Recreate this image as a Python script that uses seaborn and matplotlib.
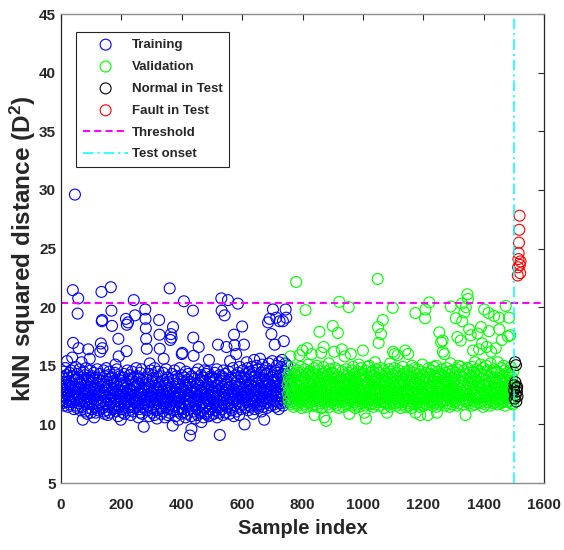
import numpy as np
import pandas as pd
import matplotlib
matplotlib.use("Agg")
import matplotlib.pyplot as plt
import seaborn as sns

# kNN squared distance of each training sample (sample index 1, 2, ...)
train_d2 = [
    13.2, 12.4, 14.1, 11.8, 12.9, 13.6, 12.1, 14.5, 13.0, 11.6, 12.7, 13.9, 12.3, 14.8, 12.0, 13.4, 11.9, 12.6, 14.2, 15.4, 12.8, 13.1, 11.5, 14.0, 12.5,
    13.7, 12.2, 14.4, 11.7, 13.3, 12.9, 12.0, 14.6, 13.5, 11.9, 12.6, 15.7, 13.0, 21.45, 16.95, 12.4, 14.1, 11.3, 13.8, 12.7, 29.6, 13.2, 14.9, 12.1, 11.6,
    12.8, 13.9, 11.4, 14.3, 19.45, 12.5, 20.75, 16.5, 13.1, 11.8, 14.7, 12.3, 13.6, 12.0, 11.2, 13.4, 14.0, 15.3, 12.6, 11.5, 13.8, 10.4, 12.9, 14.5, 12.2,
    13.3, 11.9, 12.7, 14.2, 11.1, 13.0, 12.4, 14.8, 11.7, 13.5, 12.1, 10.9, 13.8, 12.6, 16.4, 11.4, 14.0, 12.9, 11.8, 15.6, 13.2, 12.3, 14.6, 11.0, 12.8,
    12.0, 13.6, 11.3, 14.1, 12.5, 11.7, 13.9, 12.2, 14.4, 10.6, 12.9, 11.5, 13.3, 12.7, 11.0, 14.0, 12.4, 13.1, 11.8, 14.7, 12.1, 13.5, 11.2, 12.6, 13.8,
    11.6, 12.8, 14.3, 11.9, 16.2, 12.5, 16.9, 13.7, 21.3, 18.8, 18.9, 16.5, 11.4, 13.2, 12.0, 14.6, 11.1, 12.7, 13.4, 10.9, 14.1, 12.3, 11.7, 13.0, 14.8,
    12.4, 11.2, 13.6, 12.9, 10.8, 14.2, 12.1, 13.3, 11.5, 14.5, 12.6, 11.0, 13.9, 12.2, 21.7, 11.8, 19.7, 13.1, 18.4, 12.7, 14.0, 11.3, 12.5, 13.7, 11.6,
    13.0, 12.3, 14.4, 11.4, 15.1, 12.8, 11.1, 13.5, 12.0, 14.7, 11.7, 13.2, 12.6, 10.7, 17.3, 15.8, 12.4, 13.8, 11.5, 14.1, 12.9, 11.9, 10.4, 13.4, 12.2,
    11.3, 13.7, 12.5, 14.0, 11.0, 12.8, 13.3, 11.6, 14.3, 12.1, 10.9, 13.6, 12.4, 11.8, 19.0, 13.1, 16.25, 18.5, 12.7, 14.6, 11.4, 18.7, 12.0, 13.9, 11.2,
    12.6, 14.2, 11.5, 13.0, 12.3, 10.8, 13.8, 12.9, 11.7, 14.5, 12.2, 13.4, 11.1, 12.8, 14.0, 20.6, 11.9, 13.2, 12.5, 19.3, 11.4, 13.6, 12.1, 14.8, 11.8,
    13.3, 12.0, 11.6, 14.1, 12.7, 10.6, 13.5, 12.4, 11.3, 13.9, 12.8, 14.4, 11.0, 12.2, 13.1, 11.7, 14.7, 12.6, 10.9, 13.7, 12.3, 11.5, 13.0, 9.8, 12.9,
    11.8, 13.4, 12.1, 19.8, 19.0, 18.2, 17.3, 14.0, 16.45, 12.5, 11.2, 13.8, 12.8, 11.6, 14.3, 12.0, 10.7, 13.2, 15.2, 12.4, 11.9, 14.6, 12.7, 11.4, 13.6,
    12.2, 11.0, 13.9, 12.6, 14.2, 11.5, 12.9, 13.3, 10.8, 14.8, 12.1, 11.7, 13.6, 12.4, 11.2, 14.0, 12.8, 10.5, 13.1, 12.3, 11.8, 14.5, 12.0, 13.4, 18.9,
    17.65, 16.45, 11.6, 13.2, 12.5, 10.9, 14.1, 12.2, 11.4, 13.7, 12.8, 11.1, 14.4, 12.0, 15.6, 11.8, 13.0, 12.6, 10.6, 13.5, 12.3, 11.5, 14.7, 12.9, 11.9,
    13.3, 12.1, 10.8, 14.0, 12.7, 11.3, 13.6, 12.4, 11.0, 21.6, 12.9, 17.2, 11.7, 17.7, 13.1, 17.4, 12.0, 14.3, 11.5, 9.9, 18.3, 12.6, 13.8, 11.2, 12.3,
    14.6, 11.6, 12.8, 13.2, 10.7, 12.2, 14.1, 11.9, 13.5, 12.5, 11.1, 13.9, 12.0, 10.4, 13.4, 12.7, 11.4, 14.8, 12.3, 11.8, 13.0, 10.9, 12.6, 14.2, 16.0,
    11.3, 16.1, 12.9, 13.7, 11.0, 12.4, 20.5, 14.0, 11.7, 12.1, 13.3, 10.6, 12.8, 14.5, 11.5, 13.1, 12.2, 10.9, 13.8, 12.6, 11.2, 14.3, 12.0, 11.6, 13.4,
    12.5, 9.05, 11.8, 13.6, 12.3, 10.7, 9.6, 14.1, 12.9, 11.4, 13.2, 19.7, 17.4, 15.85, 12.0, 11.1, 13.9, 12.7, 10.5, 14.4, 12.2, 11.6, 13.0, 12.8, 11.3,
    13.5, 12.1, 10.8, 14.7, 12.4, 16.6, 11.5, 13.3, 12.6, 11.0, 13.8, 12.9, 11.7, 14.2, 10.2, 12.3, 13.6, 11.2, 12.7, 14.0, 11.9, 10.6, 13.1, 12.5, 14.6,
    11.4, 12.8, 13.7, 10.9, 12.2, 14.3, 11.6, 13.0, 12.6, 11.1, 14.5, 12.0, 13.4, 10.7, 15.5, 12.4, 11.8, 13.9, 12.1, 11.3, 14.1, 12.9, 10.8, 13.2, 12.5,
    12.7, 11.5, 14.0, 12.3, 13.6, 10.9, 12.8, 11.9, 14.4, 13.1, 11.2, 12.6, 13.8, 11.7, 12.2, 14.7, 10.6, 13.3, 12.0, 16.8, 11.4, 13.5, 12.9, 11.0, 14.2,
    9.1, 12.4, 13.7, 11.6, 12.1, 20.75, 19.7, 14.1, 11.3, 12.8, 13.2, 10.8, 14.6, 12.5, 11.8, 13.9, 19.3, 12.2, 11.0, 14.3, 12.7, 13.4, 16.6, 11.5, 12.9,
    13.6, 12.0, 20.6, 11.7, 14.5, 12.6, 13.1, 10.9, 12.3, 15.4, 11.4, 13.8, 12.8, 14.0, 11.2, 13.3, 12.5, 11.9, 14.8, 12.1, 13.0, 10.7, 17.65, 12.7, 16.75,
    11.6, 13.5, 12.4, 14.2, 16.0, 11.1, 12.9, 13.7, 12.2, 11.8, 20.3, 14.4, 12.6, 13.2, 10.8, 12.0, 14.9, 11.5, 13.4, 12.8, 11.3, 14.1, 12.5, 13.9, 18.35,
    12.3, 14.6, 11.7, 13.0, 12.7, 16.8, 14.0, 10.0, 13.6, 12.1, 11.4, 14.3, 12.9, 13.3, 15.3, 11.9, 12.4, 14.8, 13.1, 11.2, 12.6, 13.8, 12.0, 14.5, 11.6,
    13.4, 12.8, 11.5, 14.2, 13.0, 12.2, 14.9, 11.8, 13.6, 12.5, 10.9, 14.4, 13.2, 12.0, 15.5, 11.3, 12.7, 14.1, 13.7, 11.9, 12.4, 15.0, 12.9, 11.6, 13.5,
    12.1, 14.7, 13.3, 11.4, 12.8, 14.0, 12.3, 13.9, 15.6, 11.7, 13.1, 12.6, 14.4, 11.1, 13.6, 12.4, 15.1, 12.0, 13.8, 11.5, 14.6, 12.9, 10.4, 13.2, 14.2,
    11.8, 13.5, 12.7, 14.8, 12.2, 13.0, 11.4, 14.3, 12.9, 13.7, 18.7, 12.5, 15.2, 11.9, 13.4, 19.0, 12.1, 14.5, 13.1, 11.6, 12.8, 17.7, 14.0, 12.4, 15.4,
    13.3, 19.8, 12.6, 14.1, 11.7, 13.8, 12.0, 16.8, 14.6, 12.9, 11.5, 13.6, 19.1, 12.3, 15.0, 13.2, 11.9, 14.4, 12.7, 13.9, 11.3, 15.3, 12.5, 18.8, 14.2,
    12.8, 13.5, 11.8, 14.9, 12.4, 13.1, 15.5, 12.2, 14.0, 18.8, 11.6, 13.7, 17.1, 12.9, 14.5, 11.9, 13.4, 15.2, 19.8, 12.6, 19.1, 14.3, 12.1, 13.8, 15.0,
]

# kNN squared distance of each validation sample (continues the training index)
val_d2 = [
    13.4, 12.6, 14.2, 12.1, 13.8, 12.9, 11.7, 14.5, 13.1, 15.8, 12.4, 13.6, 11.9, 14.0, 12.7, 13.3, 12.0, 14.8, 12.5, 13.9, 11.5, 13.0, 14.3, 12.2, 13.7,
    12.8, 14.1, 11.8, 22.15, 13.5, 12.3, 14.6, 12.9, 11.6, 13.2, 14.4, 12.0, 13.8, 12.6, 15.9, 11.9, 13.4, 12.7, 14.9, 12.2, 13.0, 11.4, 14.2, 12.5, 16.3,
    13.6, 12.1, 14.0, 12.8, 11.7, 13.3, 14.7, 12.4, 13.9, 19.75, 12.0, 13.1, 11.5, 14.3, 16.5, 12.6, 13.7, 12.2, 15.1, 11.8, 13.5, 12.9, 14.5, 12.3, 13.2,
    11.9, 14.1, 12.7, 13.4, 16.0, 12.5, 13.8, 11.6, 14.4, 12.9, 13.0, 12.2, 14.8, 12.6, 10.8, 13.6, 12.0, 14.2, 11.7, 13.3, 12.8, 15.0, 12.4, 13.9, 11.5,
    13.1, 12.3, 14.6, 12.8, 13.5, 17.9, 12.0, 14.0, 11.8, 13.7, 12.5, 16.1, 13.2, 11.4, 14.3, 12.7, 13.9, 12.1, 14.9, 16.6, 12.4, 10.6, 13.6, 11.9, 14.1,
    12.6, 13.3, 10.3, 14.5, 12.2, 13.0, 11.7, 14.2, 12.9, 13.8, 12.0, 15.2, 12.5, 13.4, 11.5, 14.7, 12.8, 13.1, 12.3, 14.0, 11.9, 13.6, 12.7, 14.4, 18.4,
    13.2, 12.1, 14.3, 11.8, 16.2, 13.5, 12.6, 14.8, 12.4, 13.0, 11.6, 13.9, 12.2, 14.1, 12.9, 13.7, 17.8, 12.0, 14.6, 11.4, 13.3, 20.45, 12.7, 13.8, 12.3,
    14.0, 12.5, 13.1, 11.9, 16.4, 12.8, 14.5, 12.2, 13.6, 11.5, 14.2, 12.9, 13.4, 12.0, 15.8, 13.0, 12.4, 14.7, 11.7, 13.5, 12.6, 14.1, 12.1, 13.9, 12.7,
    11.8, 13.3, 20.0, 14.4, 10.9, 12.3, 13.7, 12.0, 14.0, 16.0, 12.6, 13.2, 11.6, 14.6, 12.9, 13.5, 12.2, 14.9, 11.9, 13.0, 12.5, 14.3, 12.8, 13.8, 11.4,
    13.6, 12.4, 14.1, 12.7, 13.1, 11.7, 14.5, 12.0, 13.4, 12.9, 15.1, 11.5, 13.9, 12.3, 14.2, 12.6, 13.0, 11.8, 14.8, 12.2, 13.7, 12.8, 14.0, 11.9, 16.3,
    12.5, 13.8, 12.1, 14.3, 11.0, 13.2, 12.7, 14.6, 11.6, 10.5, 13.5, 12.0, 14.0, 12.8, 13.3, 11.9, 14.9, 12.4, 13.6, 12.2, 15.0, 11.7, 13.1, 12.9, 14.4,
    13.0, 12.3, 14.2, 11.8, 13.7, 12.6, 14.5, 12.1, 13.4, 11.5, 14.1, 12.9, 13.6, 12.0, 15.3, 11.7, 13.9, 12.5, 14.7, 12.2, 13.1, 11.9, 14.0, 22.4, 18.3,
    12.8, 16.95, 13.5, 12.1, 14.4, 11.6, 13.0, 12.7, 14.8, 17.7, 12.3, 13.8, 11.9, 14.2, 12.6, 18.9, 13.3, 12.0, 14.6, 11.4, 13.7, 12.9, 14.1, 12.4, 13.2,
    11.8, 14.3, 12.5, 13.6, 11.0, 12.9, 14.0, 12.2, 13.4, 11.7, 14.7, 12.8, 13.1, 12.0, 15.2, 11.5, 13.9, 12.6, 14.5, 12.3, 13.0, 11.9, 14.2, 19.95, 16.2,
    12.7, 13.5, 12.1, 14.8, 16.0, 11.8, 13.2, 12.4, 14.1, 12.9, 13.7, 11.6, 14.4, 12.2, 15.9, 13.0, 12.6, 14.6, 11.9, 13.4, 12.0, 14.0, 12.8, 13.6, 11.4,
    13.3, 12.5, 14.2, 11.7, 13.8, 12.1, 14.9, 12.7, 13.1, 11.9, 14.3, 12.4, 13.6, 12.0, 16.3, 11.5, 13.9, 12.8, 14.5, 12.2, 13.0, 11.8, 14.1, 12.6, 16.0,
    12.9, 13.4, 11.6, 14.6, 12.3, 13.7, 12.0, 14.0, 12.8, 11.4, 13.2, 12.5, 15.0, 11.9, 13.8, 12.2, 14.4, 12.7, 13.5, 11.7, 14.8, 12.1, 13.1, 19.5, 11.0,
    13.6, 12.4, 14.2, 12.0, 13.0, 11.8, 14.7, 12.6, 13.3, 12.2, 14.0, 11.5, 13.9, 12.8, 10.8, 13.4, 12.1, 14.5, 11.9, 13.1, 12.7, 15.1, 12.3, 13.7, 11.6,
    14.1, 12.5, 13.2, 11.8, 13.8, 19.05, 19.8, 12.2, 14.4, 12.9, 13.5, 11.7, 14.0, 12.3, 10.8, 13.0, 12.6, 14.8, 11.9, 20.4, 13.6, 12.1, 14.3, 12.7, 13.3,
    11.9, 14.6, 12.4, 13.1, 12.8, 14.2, 11.6, 13.7, 12.0, 14.9, 12.5, 13.4, 11.8, 14.1, 12.2, 13.9, 12.7, 15.0, 11.5, 11.0, 13.3, 12.1, 14.5, 12.9, 13.6,
    12.3, 14.0, 17.85, 12.6, 13.2, 11.7, 14.3, 12.8, 17.0, 13.5, 12.0, 14.7, 11.9, 17.15, 16.2, 13.0, 12.4, 14.1, 12.2, 16.0, 13.8, 11.6, 14.4, 12.7, 13.4,
    12.1, 13.7, 14.8, 12.5, 13.0, 11.8, 14.2, 12.9, 13.6, 12.3, 14.5, 11.5, 13.3, 12.7, 15.2, 20.05, 12.0, 14.0, 12.6, 13.9, 11.7, 14.6, 12.4, 13.1, 12.8,
    13.5, 12.2, 14.1, 11.9, 13.8, 12.6, 14.4, 19.05, 12.0, 13.2, 11.6, 14.7, 17.45, 12.8, 13.4, 12.3, 15.0, 11.8, 13.7, 12.5, 14.2, 12.1, 13.0, 17.15, 14.9,
    12.4, 13.6, 20.3, 18.8, 12.7, 14.0, 11.7, 13.3, 12.2, 14.6, 19.55, 12.9, 13.8, 12.0, 10.8, 20.0, 14.3, 12.6, 13.1, 11.9, 21.1, 14.8, 20.7, 12.5, 13.5,
    12.1, 18.1, 14.4, 11.8, 13.2, 12.7, 17.6, 14.1, 12.3, 13.7, 11.6, 14.9, 12.9, 13.4, 16.3, 12.0, 14.5, 12.6, 13.0, 11.7, 15.3, 12.4, 13.8, 12.2, 14.2,
    13.1, 12.5, 14.7, 11.9, 17.75, 13.6, 12.2, 14.0, 12.8, 16.4, 13.3, 11.8, 14.5, 12.4, 15.1, 18.3, 13.0, 12.6, 14.3, 16.9, 12.0, 13.9, 11.5, 14.8, 12.7,
    13.4, 19.8, 12.3, 14.2, 11.7, 13.7, 12.9, 15.0, 12.1, 16.6, 13.5, 12.6, 14.6, 11.9, 13.2, 19.5, 12.4, 17.95, 14.1, 12.8, 13.6, 11.6, 15.2, 12.2, 16.2,
    12.9, 14.4, 12.0, 13.8, 12.6, 14.0, 11.8, 13.3, 12.5, 19.25, 14.7, 12.2, 13.6, 11.9, 16.5, 13.1, 12.7, 14.5, 12.3, 13.9, 11.7, 15.3, 12.8, 13.4, 12.1,
    19.1, 18.1, 13.7, 12.4, 14.3, 11.8, 13.0, 12.6, 14.8, 17.2, 12.2, 13.5, 11.9, 14.1, 12.7, 15.0, 12.0, 13.8, 12.5, 14.6, 11.6, 13.2, 20.1, 12.9, 14.0,
    12.3, 13.6, 12.8, 14.4, 17.5, 11.9, 13.1, 12.5, 19.1, 14.2, 12.0, 13.7, 17.6, 12.7, 14.9, 11.8, 13.4, 12.2, 14.0, 12.6, 13.3, 11.7, 14.5, 12.9, 13.0,
]

# Test samples after the onset
test_normal_idx = [1501, 1502, 1503, 1504, 1505, 1506, 1507, 1508, 1509, 1510, 1511, 1512]
test_normal_d2 = [12.9, 13.35, 12.2, 15.3, 13.6, 12.5, 15.05, 11.95, 13.1, 12.8, 13.2, 12.4]
test_fault_idx = [1513, 1514, 1515, 1516, 1517, 1518, 1519, 1520, 1521, 1522]
test_fault_d2 = [22.7, 23.4, 24.1, 24.6, 25.5, 26.6, 27.8, 23.6, 22.9, 23.9]

threshold = 20.38
test_onset = 1500

x_ticks = [0, 200, 400, 600, 800, 1000, 1200, 1400, 1600]
y_ticks = [5, 10, 15, 20, 25, 30, 35, 40, 45]

sns.set_style("white")
dark = "#262626"
plt.rcParams.update({
    "font.family": ["Liberation Sans", "DejaVu Sans"],
    "font.weight": "bold",
    "axes.labelweight": "bold",
    "mathtext.fontset": "custom",
    "mathtext.rm": "Liberation Sans:bold",
    "mathtext.it": "Liberation Sans:bold",
    "mathtext.bf": "Liberation Sans:bold",
    "text.color": dark,
    "axes.labelcolor": dark,
})

fig = plt.figure(figsize=(5.64, 5.50), dpi=100)
ax = fig.add_axes([0.1082, 0.1218, 0.8564, 0.8527])

n_train = len(train_d2)
train = pd.DataFrame({"idx": np.arange(1, n_train + 1), "d2": train_d2})
val = pd.DataFrame({"idx": np.arange(n_train + 1, n_train + 1 + len(val_d2)), "d2": val_d2})
normal = pd.DataFrame({"idx": test_normal_idx, "d2": test_normal_d2})
fault = pd.DataFrame({"idx": test_fault_idx, "d2": test_fault_d2})

circle = dict(marker="o", s=62, facecolor="none", linewidth=0.8)
for df, col, name in [(train, "#0000ff", "Training"),
                      (val, "#00ff00", "Validation"),
                      (normal, "#000000", "Normal in Test"),
                      (fault, "#ff0000", "Fault in Test")]:
    sns.scatterplot(data=df, x="idx", y="d2", color=col, edgecolor=col,
                    label=name, ax=ax, **circle)

ax.axhline(threshold, color="#ff00ff", lw=1.5, linestyle=(0, (3.4, 2.0)), label="Threshold")
ax.axvline(test_onset, color="#00ffff", lw=1.1, linestyle=(0, (7, 2.5, 1.5, 2.5)), label="Test onset")

ax.set_xlim(0, 1600)
ax.set_ylim(5, 45)
ax.set_xticks(x_ticks)
ax.set_yticks(y_ticks)
ax.tick_params(direction="in", length=4, width=0.8, top=True, right=True,
               labelsize=11, color=dark, labelcolor=dark)
ax.tick_params(axis="x", pad=11)
for lab in ax.get_xticklabels() + ax.get_yticklabels():
    lab.set_fontweight("bold")

for side in ("left", "right"):
    ax.spines[side].set_color(dark)
    ax.spines[side].set_linewidth(0.9)
for side in ("top", "bottom"):
    ax.spines[side].set_color("#8c8c8c")
    ax.spines[side].set_linewidth(1.0)

ax.set_xlabel("Sample index", fontsize=14.5, fontweight="bold", labelpad=5)
ax.set_ylabel(r"kNN squared distance (D$^{2}$)", fontsize=17.5, fontweight="bold", labelpad=1)

leg = ax.legend(loc="upper left", bbox_to_anchor=(0.031, 0.9616), borderaxespad=0,
                frameon=True, fancybox=False, edgecolor=dark, framealpha=1,
                prop={"weight": "bold", "size": 9.5}, handlelength=3.45,
                handletextpad=0.25, labelspacing=0.73, borderpad=0.52,
                scatterpoints=1)
leg.get_frame().set_linewidth(0.8)

fig.savefig("out.png", dpi=100)
